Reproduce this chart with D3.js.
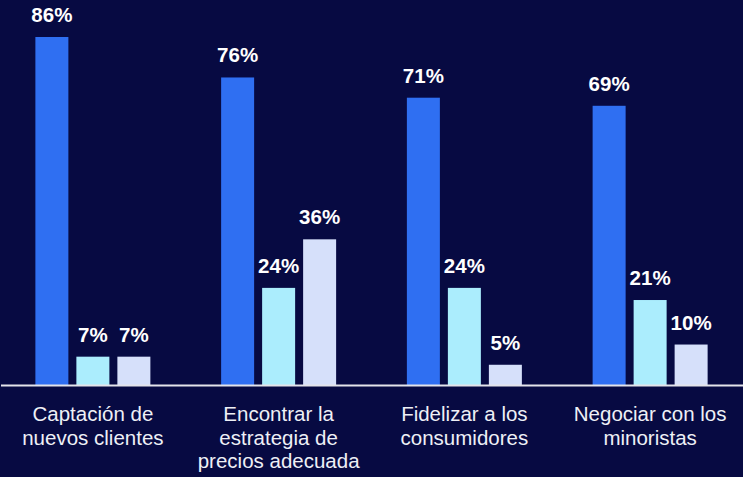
<!DOCTYPE html>
<html>
<head>
<meta charset="utf-8">
<script src="https://cdn.jsdelivr.net/npm/d3@7"></script>
<style>
  html, body { margin: 0; padding: 0; background: #070a42; }
  svg { display: block; }
</style>
</head>
<body>
<svg id="chart" width="743" height="477"></svg>
<script>
// Categories (each label line is a separate entry)
const categories = [
  ["Captación de", "nuevos clientes"],
  ["Encontrar la", "estrategia de", "precios adecuada"],
  ["Fidelizar a los", "consumidores"],
  ["Negociar con los", "minoristas"]
];

// Three series of percentages, one value per category
const series1 = [86, 76, 71, 69];
const series2 = [7, 24, 24, 21];
const series3 = [7, 36, 5, 10];

const seriesValues = [series1, series2, series3];
const seriesColors = ["#2f6ff2", "#abedfd", "#d6e0fa"];

const width = 743, height = 477;
const baseY = 385;

const svg = d3.select("#chart");

const x0 = d3.scaleBand()
  .domain(d3.range(categories.length))
  .range([0, width])
  .padding(0);

const x1 = d3.scaleBand()
  .domain(d3.range(seriesValues.length))
  .range([-57.5, 57.5])
  .paddingInner(8 / 41)
  .paddingOuter(0);

const y = d3.scaleLinear()
  .domain([0, 86])
  .range([baseY, 37]);

const groups = svg.selectAll("g.group")
  .data(categories)
  .join("g")
  .attr("class", "group")
  .attr("transform", (d, i) => `translate(${x0(i) + x0.bandwidth() / 2},0)`);

groups.each(function (cat, ci) {
  const g = d3.select(this);
  const vals = seriesValues.map((s, si) => ({ si, v: s[ci] }));

  g.selectAll("rect")
    .data(vals)
    .join("rect")
    .attr("x", d => x1(d.si))
    .attr("width", x1.bandwidth())
    .attr("y", d => y(d.v))
    .attr("height", d => baseY - y(d.v))
    .attr("fill", d => seriesColors[d.si]);

  g.selectAll("text.value")
    .data(vals)
    .join("text")
    .attr("class", "value")
    .attr("x", d => x1(d.si) + x1.bandwidth() / 2)
    .attr("y", d => y(d.v) - 15)
    .attr("text-anchor", "middle")
    .attr("fill", "#ffffff")
    .attr("font-family", "Liberation Sans, Arial, sans-serif")
    .attr("font-weight", "bold")
    .attr("font-size", 20.5)
    .text(d => d.v + "%");

  const label = g.append("text")
    .attr("text-anchor", "middle")
    .attr("fill", "#eef0f6")
    .attr("font-family", "Liberation Sans, Arial, sans-serif")
    .attr("font-size", 20.5);

  label.selectAll("tspan")
    .data(cat)
    .join("tspan")
    .attr("x", 0)
    .attr("y", (d, i) => 421 + i * 23.5)
    .text(d => d);
});

// Baseline
svg.append("line")
  .attr("x1", 1)
  .attr("x2", width)
  .attr("y1", baseY + 0.5)
  .attr("y2", baseY + 0.5)
  .attr("stroke", "#e4e4ea")
  .attr("stroke-width", 2);
</script>
</body>
</html>
